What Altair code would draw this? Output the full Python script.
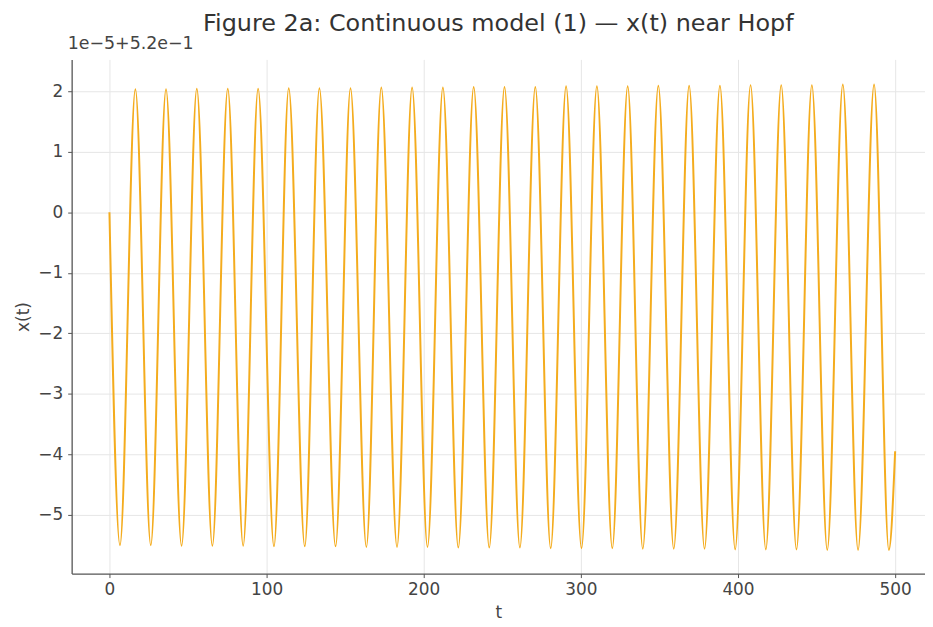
import altair as alt
import pandas as pd

# (x offset values in units of 1e-5 around 0.52)
start_t = [0.0]
start_x = [0.0]
trough_t = [6.7, 26.3, 45.9, 65.5, 85.1, 104.7, 124.3, 143.9, 163.5, 183.0, 202.4, 222.0,
            241.7, 261.2, 280.8, 300.4, 320.0, 339.4, 359.1, 378.7, 398.2, 417.7, 437.2,
            456.8, 476.4, 496.0]
trough_x = [-5.50, -5.50, -5.51, -5.51, -5.51, -5.52, -5.52, -5.52, -5.53, -5.53, -5.53, -5.54,
            -5.54, -5.54, -5.55, -5.55, -5.55, -5.56, -5.56, -5.56, -5.57, -5.57, -5.57,
            -5.58, -5.58, -5.58]
peak_t = [16.5, 36.0, 55.6, 75.3, 94.6, 114.1, 133.6, 153.4, 173.0, 192.6, 212.2, 231.8,
          251.4, 271.0, 290.6, 310.2, 329.8, 349.3, 368.9, 388.5, 408.0, 427.5, 447.0,
          466.7, 486.6]
peak_x = [2.03, 2.03, 2.04, 2.04, 2.04, 2.05, 2.05, 2.05, 2.06, 2.06, 2.06, 2.07,
          2.07, 2.07, 2.08, 2.08, 2.08, 2.09, 2.09, 2.09, 2.10, 2.10, 2.10,
          2.11, 2.11]
end_t = [500.0]
end_x = [-3.95]

x_ticks = [0, 100, 200, 300, 400, 500]
y_ticks = [-5, -4, -3, -2, -1, 0, 1, 2]

t_all = start_t + trough_t + peak_t + end_t
x_all = start_x + trough_x + peak_x + end_x
df = pd.DataFrame({"t": t_all, "x": x_all}).sort_values("t")

FONT = "DejaVu Sans"
GRID = "#e6e6e6"
AX = "#555555"

line = alt.Chart(df).mark_line(
    color="#F4AC1E", strokeWidth=2, interpolate="monotone", clip=True
).encode(
    x=alt.X("t:Q", scale=alt.Scale(domain=[-24.05, 519], nice=False, zero=False),
            axis=alt.Axis(values=x_ticks, title="t", titleFontSize=17, titleFontWeight="normal",
                          titleColor="#444", titlePadding=7, labelFontSize=17,
                          labelColor="#444", labelPadding=4, tickSize=4, tickColor=AX,
                          domainColor=AX, domainWidth=1.3, gridColor=GRID, format="d")),
    y=alt.Y("x:Q", scale=alt.Scale(domain=[-5.97, 2.525], nice=False, zero=False),
            axis=alt.Axis(values=y_ticks, title="x(t)", titleFontSize=17, titleFontWeight="normal",
                          titleColor="#444", titlePadding=5, labelFontSize=17,
                          labelColor="#444", labelPadding=5, tickSize=4, tickColor=AX,
                          domainColor=AX, domainWidth=1.3, gridColor=GRID, format="d")),
)

offset_label = alt.Chart(pd.DataFrame({"s": ["1e\u22125+5.2e\u22121"]})).mark_text(
    align="left", baseline="bottom", fontSize=17.5, font=FONT, color="#444"
).encode(x=alt.value(-4), y=alt.value(-6), text="s:N")

chart = alt.layer(line, offset_label).properties(
    width=858,
    height=517,
    padding={"left": 64, "top": 50, "right": 0, "bottom": 51},
    autosize="none",
    title=alt.Title("Figure 2a: Continuous model (1) \u2014 x(t) near Hopf", fontSize=24,
                    font=FONT, fontWeight="normal", color="#333", anchor="middle", offset=0),
).configure_view(stroke=None).configure_axis(labelFont=FONT, titleFont=FONT)

chart.save("out.html", embed_options={"renderer": "svg", "actions": False})
